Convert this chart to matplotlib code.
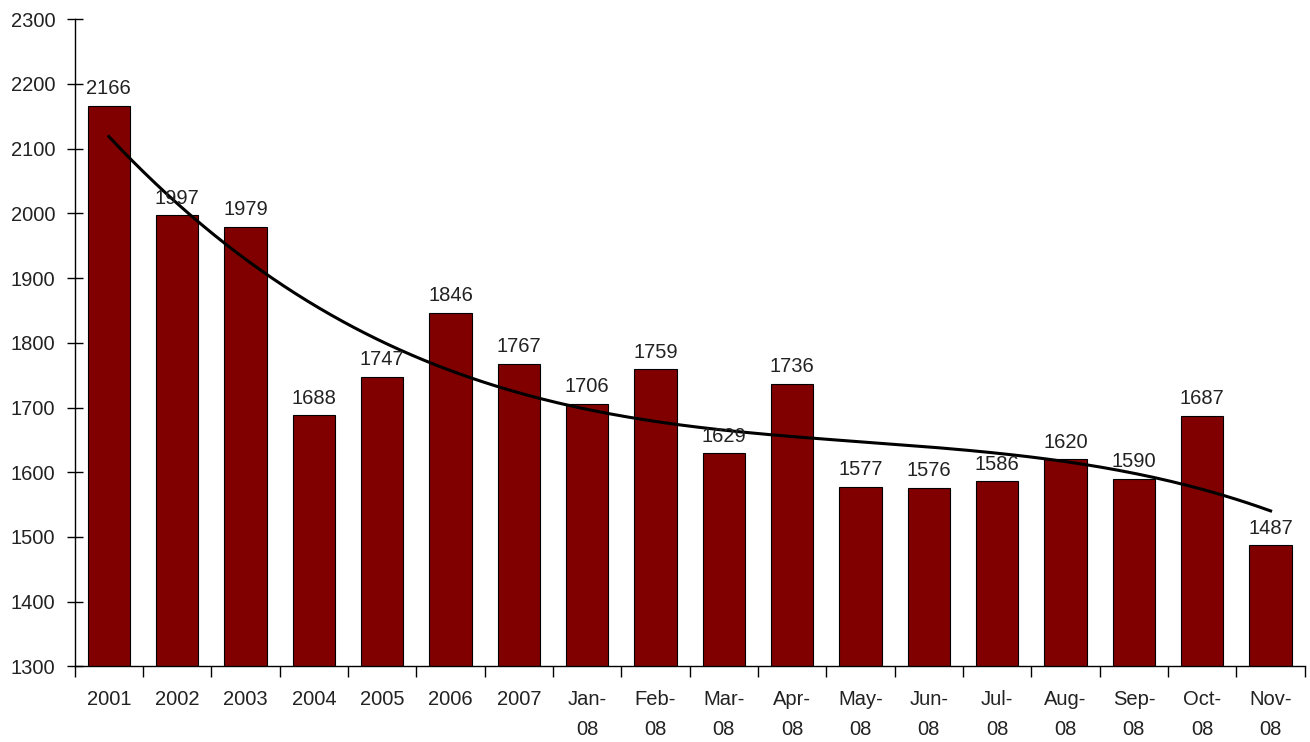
import numpy as np
import matplotlib.pyplot as plt

plt.rcParams['font.family'] = ['Liberation Sans', 'DejaVu Sans']

categories = ['2001', '2002', '2003', '2004', '2005', '2006', '2007',
              'Jan-\n08', 'Feb-\n08', 'Mar-\n08', 'Apr-\n08', 'May-\n08',
              'Jun-\n08', 'Jul-\n08', 'Aug-\n08', 'Sep-\n08', 'Oct-\n08', 'Nov-\n08']
values = [2166, 1997, 1979, 1688, 1747, 1846, 1767, 1706, 1759, 1629,
          1736, 1577, 1576, 1586, 1620, 1590, 1687, 1487]

x = np.arange(len(values))

fig = plt.figure(figsize=(13.1, 7.42), dpi=100)
ax = fig.add_axes([0.057, 0.102, 0.939, 0.872])

ax.bar(x, values, width=0.62, color='#800000', edgecolor='black', linewidth=0.8)

# polynomial trendline (like excel)
coef = np.polyfit(x, values, 3)
xs = np.linspace(0, len(values) - 1, 200)
ax.plot(xs, np.polyval(coef, xs), color='black', lw=2.2)

for xi, v in zip(x, values):
    ax.text(xi, v + 12, str(v), ha='center', va='bottom', fontsize=14.5, color='#222222')

ax.set_ylim(1300, 2300)
ax.set_xlim(-0.5, len(values) - 0.5)
ax.set_yticks(range(1300, 2301, 100))
ax.set_xticks(x)
ax.set_xticklabels(categories, fontsize=14.5, linespacing=1.75, color='#222222')
ax.set_xticks(np.arange(-0.5, len(values), 1), minor=True)
ax.tick_params(axis='x', which='major', length=0, pad=17)
ax.tick_params(axis='x', which='minor', direction='out', length=8, width=1)
ax.tick_params(axis='y', direction='inout', length=12, width=1, labelsize=14.5,
               labelcolor='#222222', pad=8)

for s in ['top', 'right']:
    ax.spines[s].set_visible(False)
ax.spines['left'].set_linewidth(1)
ax.spines['bottom'].set_linewidth(1)

plt.savefig('out.png')
